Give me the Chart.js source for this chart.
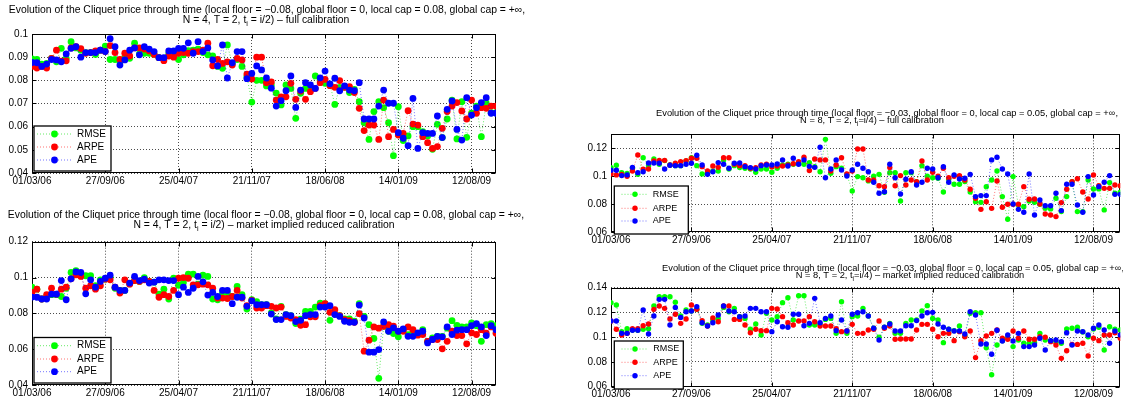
<!DOCTYPE html>
<html>
<head>
<meta charset="utf-8">
<script src="https://cdn.jsdelivr.net/npm/chart.js@4.4.1/dist/chart.umd.min.js"></script>
<style>
  body { margin: 0; background: #fff; width: 1123px; height: 404px; position: relative; overflow: hidden; }
  .panel { position: absolute; }
</style>
</head>
<body>
<div class="panel" style="left:0;top:0;width:545px;height:195px"><canvas id="fullN4"></canvas></div>
<div class="panel" style="left:0;top:200px;width:545px;height:204px"><canvas id="reducedN4"></canvas></div>
<div class="panel" style="left:560px;top:95px;width:563px;height:155px"><canvas id="fullN8"></canvas></div>
<div class="panel" style="left:560px;top:250px;width:563px;height:154px"><canvas id="reducedN8"></canvas></div>
<script>
// x axis: one sample every two weeks, a labelled tick every 15 samples
const tickIdx = [0, 15, 30, 45, 60, 75, 90];
const dateLabels = ['01/03/06', '27/09/06', '25/04/07', '21/11/07', '18/06/08', '14/01/09', '12/08/09'];

const yTicksFullN4 = [0.04, 0.05, 0.06, 0.07, 0.08, 0.09, 0.1];
const yTicksReducedN4 = [0.04, 0.06, 0.08, 0.1, 0.12];
const yTicksFullN8 = [0.06, 0.08, 0.1, 0.12];
const yTicksReducedN8 = [0.06, 0.08, 0.1, 0.12, 0.14];

// N = 4, full calibration
const fullN4Rmse = [.0892,.089,.087,.0873,.0895,.088,.0938,.0895,.0967,.094,.093,.092,.092,.0912,.093,.0948,.089,.089,.088,.090,
  .0895,.096,.0914,.0917,.0917,.0912,.0898,.0895,.0914,.091,.089,.091,.0928,.093,.0935,.092,.091,.0905,.086,.0852,
  .0953,.087,.089,.086,.0816,.0706,.080,.080,.0776,.078,.0745,.0694,.078,.0765,.0636,.0744,.0765,.0761,.0819,.080,
  .0787,.0783,.0696,.077,.077,.0747,.0761,.0708,.0617,.0545,.0665,.0708,.0682,.0617,.0475,.0686,.054,.056,.060,.060,
  .0578,.056,.0502,.061,.0553,.0633,.0715,.0547,.0708,.0554,.0658,.0689,.0557,.0701,.066,.066];
const fullN4Arpe = [.086,.0853,.086,.0853,.0895,.093,.0883,.0884,.094,.0945,.0937,.0917,.092,.0927,.093,.0925,.095,.092,.089,.0917,
  .0905,.094,.094,.0935,.0927,.0912,.0898,.0885,.0905,.090,.0917,.092,.0917,.0924,.0924,.093,.096,.0863,.089,.0873,
  .088,.0866,.0895,.0888,.0827,.0806,.090,.090,.079,.0793,.0715,.0729,.0729,.0787,.0718,.0754,.0718,.0751,.0765,.079,
  .0804,.0777,.077,.0799,.077,.0773,.0747,.0679,.0583,.0607,.0607,.0545,.0715,.0557,.0588,.0564,.0571,.0669,.0611,.0607,
  .0557,.0531,.0506,.0514,.0593,.0665,.0689,.0704,.0668,.0633,.0715,.0658,.0682,.0679,.0689,.0689];
const fullN4Ape = [.0877,.0876,.086,.087,.089,.0888,.088,.0914,.0938,.0945,.090,.092,.092,.092,.093,.0924,.098,.0945,.0866,.0888,
  .093,.094,.091,.0945,.0935,.0924,.0898,.0898,.0927,.0927,.0938,.0938,.0962,.0917,.0967,.0924,.094,.0888,.0862,.0953,
  .081,.0876,.0924,.0924,.0807,.083,.0862,.0845,.081,.0766,.0689,.0712,.0755,.0819,.0683,.0758,.079,.078,.0765,.0811,
  .084,.0785,.0809,.0755,.0776,.0758,.0755,.079,.0633,.0633,.0633,.0689,.0758,.0701,.0701,.0574,.055,.0518,.0722,.0506,
  .0574,.0571,.0571,.0646,.0553,.0675,.0711,.0588,.0542,.0725,.065,.0682,.0704,.0725,.0658,.0658];

// N = 4, market implied reduced calibration
const reducedN4Rmse = [.0946,.0935,.088,.0895,.0904,.0904,.0894,.094,.1028,.1039,.101,.101,.101,.0954,.0987,.0991,.100,.094,.0928,.0928,
  .0965,.0983,.0978,.100,.0978,.0974,.0907,.0935,.088,.0996,.0957,.0972,.1019,.1019,.0963,.1013,.1006,.088,.0876,.0913,
  .0913,.0894,.095,.0904,.0824,.0876,.0865,.0848,.0848,.0802,.0769,.0839,.0793,.0787,.0743,.0767,.0811,.0811,.0835,.0857,
  .0854,.0761,.0796,.0787,.0769,.0769,.0756,.0854,.0783,.0737,.066,.0437,.0728,.07,.0687,.0669,.0709,.0681,.07,.0681,
  .0709,.0644,.0663,.0672,.0672,.0717,.0759,.0733,.0724,.0724,.0746,.0731,.0644,.0737,.0743,.0731];
const reducedN4Arpe = [.0917,.0935,.088,.0904,.094,.0907,.0935,.0946,.0993,.1015,.1006,.094,.0954,.0935,.0954,.0991,.0987,.0946,.0913,.0987,
  .0963,.0983,.0978,.0987,.0978,.0928,.089,.0904,.0894,.0928,.0996,.100,.0996,.0959,.0959,.0963,.0959,.094,.0885,.0885,
  .0883,.0894,.0928,.0885,.0843,.0872,.083,.083,.0843,.0839,.083,.0835,.0783,.0774,.0765,.0733,.0737,.0781,.0781,.0843,
  .0854,.0806,.082,.0787,.0765,.0759,.075,.0798,.0589,.065,.0724,.0717,.0728,.0737,.0728,.07,.07,.0724,.0709,.0678,
  .0682,.0644,.0654,.0654,.0602,.0644,.07,.0676,.0676,.063,.0691,.0682,.0709,.0689,.0724,.0689];
const reducedN4Ape = [.0891,.089,.088,.088,.0907,.0907,.0983,.0876,.0993,.1031,.1028,.0909,.0987,.0946,.0978,.0996,.1013,.0946,.0928,.0928,
  .0969,.1006,.0983,.0991,.0969,.0974,.0987,.0987,.0983,.0983,.0904,.0946,.0917,.094,.1006,.0976,.0902,.0917,.0894,.0928,
  .0928,.0854,.089,.089,.0839,.087,.0848,.0848,.0848,.0796,.0765,.0765,.0793,.0787,.0754,.0761,.0787,.0793,.0793,.0835,
  .0835,.0843,.0793,.0783,.0756,.075,.075,.0846,.0774,.0583,.0583,.0598,.0752,.07,.0719,.07,.0713,.0672,.0672,.0691,
  .07,.0635,.0654,.0672,.0669,.0724,.0682,.0706,.0709,.0709,.0731,.0743,.0724,.0676,.0731,.0709];

// N = 8, full calibration
const fullN8Rmse = [.1062,.1079,.1026,.1021,.1057,.1014,.1133,.1076,.1124,.1086,.1112,.1081,.1076,.1076,.111,.1133,.1076,.1017,.1026,.1038,
  .1038,.1117,.1052,.1076,.1062,.1057,.1052,.1029,.1052,.1052,.1029,.1057,.1081,.1086,.1086,.1093,.1086,.1098,.1069,.1033,
  .1264,.1021,.1069,.1057,.101,.0895,.0998,.099,.0967,.100,.1014,.0886,.1026,.1026,.0824,.1026,.1026,.0962,.1076,.100,
  .099,.0986,.0888,.0979,.0943,.0943,.0962,.0888,.0819,.0814,.0926,.0974,.1038,.0855,.0693,.0998,.0795,.0783,.0824,.0814,
  .080,.0771,.0767,.0843,.0748,.0855,.0962,.0748,.0748,.0974,.091,.091,.076,.0955,.0879,.0886];
const fullN8Arpe = [.1017,.101,.1014,.100,.1038,.1152,.105,.1052,.111,.1114,.1114,.1081,.1093,.1105,.1112,.1129,.1129,.1069,.1038,.1074,
  .1064,.1133,.1133,.1086,.1076,.1076,.1057,.1062,.1081,.1086,.1067,.1074,.1074,.1081,.109,.1105,.1136,.1041,.1124,.1117,
  .1117,.1038,.1081,.1133,.1017,.1038,.1195,.1195,.0974,.0974,.0933,.0926,.1062,.0933,.1005,.0938,.0974,.0962,.111,.0974,
  .1029,.100,.1057,.099,.100,.1005,.0974,.0907,.0843,.0764,.0819,.0771,.0967,.0779,.080,.080,.080,.0926,.0836,.0838,
  .0802,.0731,.0724,.0712,.0812,.0907,.0962,.0983,.0888,.0838,.101,.0933,.0914,.0914,.0938,.0933];
const fullN8Ape = [.1043,.1043,.1005,.101,.1064,.1026,.1033,.1095,.1095,.1093,.1052,.1079,.1076,.1076,.1086,.1093,.115,.1081,.1014,.1033,
  .1098,.1086,.1057,.1093,.1095,.1069,.1062,.1052,.1076,.1081,.1081,.1088,.1117,.1074,.1129,.1086,.1117,.1071,.1064,.1207,
  .099,.1052,.1117,.1045,.1002,.1045,.1086,.1057,.1033,.0957,.0879,.089,.1086,.099,.0874,.0979,.1033,.0938,.0957,.1057,
  .1052,.099,.1069,.0957,.101,.0981,.0986,.1014,.0855,.0862,.0862,.1117,.1136,.1052,.1017,.0802,.0764,.0743,.1017,.0724,
  .0831,.079,.079,.0879,.0755,.0943,.0943,.0795,.0743,.0998,.0867,.0926,.0957,.1005,.0871,.0871];

// N = 8, market implied reduced calibration
const reducedN8Rmse = [.1279,.126,.1045,.1068,.1058,.1056,.1064,.1068,.1252,.1327,.1327,.1327,.1282,.1171,.122,.1212,.1225,.1112,.1099,.1139,
  .1152,.1241,.1206,.1233,.1166,.1152,.1064,.1107,.1018,.1193,.1139,.1166,.1279,.1319,.1139,.1335,.1335,.1099,.1099,.1107,
  .1144,.1152,.1031,.1287,.1031,.1166,.1171,.1233,.1171,.1072,.0999,.108,.1112,.1031,.1031,.1112,.1139,.1139,.1212,.1255,
  .1152,.1139,.0956,.1064,.1053,.1091,.1012,.1193,.1198,.1198,.0914,.0697,.0937,.0972,.0996,.0924,.0977,.0951,.0951,.0956,
  .1031,.0977,.0972,.0964,.0951,.1066,.1072,.108,.1042,.1004,.1066,.108,.0897,.1085,.1064,.1058];
const reducedN8Arpe = [.1131,.1064,.1018,.1031,.1068,.1068,.1093,.1107,.1225,.1252,.1233,.1147,.1185,.1112,.1147,.126,.1225,.1134,.1091,.1155,
  .1125,.1252,.1252,.1144,.1144,.1099,.1036,.1064,.1053,.1053,.1233,.1228,.1166,.1117,.1099,.1131,.1131,.1166,.1125,.1091,
  .1091,.1091,.1068,.1045,.105,.1104,.1031,.1031,.1058,.1064,.1131,.1072,.1091,.0983,.0985,.0985,.0985,.1058,.1104,.1104,
  .1064,.1004,.1031,.1031,.0972,.1045,.1004,.105,.0835,.0972,.101,.1031,.1058,.0991,.0983,.105,.0991,.105,.0983,.0983,
  .1004,.0999,.0964,.0937,.0829,.0891,.0942,.0942,.0951,.0848,.0991,.0972,.1018,.1018,.1036,.0991];
const reducedN8Ape = [.1131,.1131,.1031,.1031,.1056,.1056,.122,.1026,.1171,.1306,.1306,.1099,.1241,.116,.1206,.1212,.1247,.1117,.1091,.1117,
  .1179,.1252,.1212,.1206,.1166,.1171,.1233,.1233,.1206,.1206,.1045,.1125,.1085,.108,.1185,.1185,.1093,.1112,.1314,.1117,
  .1152,.1171,.1053,.1139,.105,.1185,.1198,.1206,.1171,.1072,.0977,.108,.1107,.105,.105,.1093,.1093,.1134,.1171,.1198,
  .1201,.1107,.108,.1064,.105,.105,.1026,.1206,.1179,.0945,.0945,.0862,.1056,.0969,.1018,.0969,.1031,.0924,.0924,.0937,
  .0991,.0896,.0972,.0977,.0964,.1036,.0937,.105,.1045,.1018,.1072,.1099,.1058,.0951,.105,.1018];

const FONT = "'Liberation Sans', Arial, Helvetica, sans-serif";
const SERIES = [
  { label: 'RMSE', solid: '#00ff00', pale: 'rgba(0,220,0,0.6)', order: 3 },
  { label: 'ARPE', solid: '#ff0000', pale: 'rgba(255,0,0,0.55)', order: 2 },
  { label: 'APE',  solid: '#0000ff', pale: 'rgba(0,0,255,0.55)', order: 1 }
];

// box around the axes with inward ticks on every side, drawn under the data
const matlabAxes = {
  id: 'matlabAxes',
  beforeDatasetsDraw(chart) {
    const { ctx, chartArea: a, scales: { x, y } } = chart;
    const L = Math.round(a.left) + 0.5, R = Math.round(a.right) - 0.5;
    const T = Math.round(a.top) + 0.5, B = Math.round(a.bottom) - 0.5;
    ctx.save();
    ctx.strokeStyle = '#000';
    ctx.lineWidth = 1;
    ctx.beginPath();
    x.ticks.forEach(t => {
      const px = Math.round(x.getPixelForValue(t.value)) + 0.5;
      ctx.moveTo(px, B); ctx.lineTo(px, B - 4);
      ctx.moveTo(px, T); ctx.lineTo(px, T + 4);
    });
    y.ticks.forEach(t => {
      const py = Math.round(y.getPixelForValue(t.value)) + 0.5;
      ctx.moveTo(L, py); ctx.lineTo(L + 4, py);
      ctx.moveTo(R, py); ctx.lineTo(R - 4, py);
    });
    ctx.stroke();
    ctx.strokeRect(L, T, R - L, B - T);
    ctx.restore();
  }
};

// legend box sitting inside the plot area
const boxLegend = {
  id: 'boxLegend',
  afterDatasetsDraw(chart, args, o) {
    const ctx = chart.ctx;
    const [bx, by, bw, bh] = o.box;
    ctx.save();
    ctx.fillStyle = '#fff';
    ctx.fillRect(bx, by, bw, bh);
    ctx.strokeStyle = '#000';
    ctx.lineWidth = 1.3;
    ctx.strokeRect(bx, by, bw, bh);
    ctx.font = o.size + 'px ' + FONT;
    ctx.textBaseline = 'middle';
    chart.data.datasets.forEach((ds, k) => {
      const yy = o.rows[k];
      ctx.strokeStyle = ds.borderColor;
      ctx.lineWidth = 1;
      ctx.setLineDash(ds.borderDash);
      ctx.beginPath();
      ctx.moveTo(o.lineX[0], yy);
      ctx.lineTo(o.lineX[1], yy);
      ctx.stroke();
      ctx.setLineDash([]);
      ctx.fillStyle = ds.pointBackgroundColor;
      ctx.beginPath();
      ctx.arc((o.lineX[0] + o.lineX[1]) / 2, yy, ds.pointRadius, 0, Math.PI * 2);
      ctx.fill();
      ctx.fillStyle = '#000';
      ctx.fillText(ds.label, o.textX, yy);
    });
    ctx.restore();
  }
};

// two centred title lines; "_i" is drawn as a subscript i
function drawSubText(ctx, text, cx, cy, size) {
  const parts = text.split('_i');
  const subSize = size * 0.7;
  ctx.font = size + 'px ' + FONT;
  const widths = parts.map(p => ctx.measureText(p).width);
  ctx.font = subSize + 'px ' + FONT;
  const subW = ctx.measureText('i').width;
  let total = widths.reduce((s, w) => s + w, 0) + subW * (parts.length - 1);
  let x = cx - total / 2;
  parts.forEach((p, k) => {
    ctx.font = size + 'px ' + FONT;
    ctx.fillText(p, x, cy);
    x += widths[k];
    if (k < parts.length - 1) {
      ctx.font = subSize + 'px ' + FONT;
      ctx.fillText('i', x, cy + size * 0.35);
      x += subW;
    }
  });
}

const twoLineTitle = {
  id: 'twoLineTitle',
  afterDraw(chart, args, o) {
    const ctx = chart.ctx;
    ctx.save();
    ctx.fillStyle = '#000';
    ctx.textBaseline = 'middle';
    ctx.textAlign = 'left';
    o.lines.forEach((t, k) => drawSubText(ctx, t, o.cx[k], o.cy[k], o.size));
    ctx.restore();
  }
};

function makePanel(id, p) {
  const datasets = p.series.map((values, k) => ({
    label: SERIES[k].label,
    data: values.map((v, i) => ({ x: i, y: v })),
    order: SERIES[k].order,
    borderColor: SERIES[k].pale,
    borderWidth: 1,
    borderDash: [1, 2],
    pointRadius: p.radius,
    pointBorderWidth: 0,
    pointBackgroundColor: SERIES[k].solid,
    pointHoverRadius: p.radius,
    tension: 0
  }));
  const el = document.getElementById(id);
  const W = el.parentNode.clientWidth, H = el.parentNode.clientHeight;
  return new Chart(el, {
    type: 'line',
    data: { datasets },
    plugins: [matlabAxes, boxLegend, twoLineTitle],
    options: {
      animation: false,
      responsive: true,
      maintainAspectRatio: false,
      layout: { padding: { left: 0, top: p.area.top, right: W - p.area.right, bottom: 0 } },
      plugins: {
        legend: { display: false },
        tooltip: { enabled: false },
        boxLegend: p.legend,
        twoLineTitle: p.title
      },
      scales: {
        x: {
          type: 'linear',
          min: 0,
          max: 95,
          afterBuildTicks: s => { s.ticks = tickIdx.map(v => ({ value: v })); },
          afterFit: s => { s.height = H - p.area.bottom; },
          ticks: {
            callback: v => dateLabels[tickIdx.indexOf(v)],
            color: '#000',
            font: { family: FONT, size: 10 },
            padding: 2,
            maxRotation: 0,
            autoSkip: false
          },
          grid: { color: 'rgba(0,0,0,0.7)', lineWidth: 1, drawTicks: false },
          border: { display: false, dash: [1, 2] }
        },
        y: {
          min: p.yRange[0],
          max: p.yRange[1],
          afterBuildTicks: s => { s.ticks = p.yTicks.map(v => ({ value: v })); },
          afterFit: s => { s.width = p.area.left; },
          ticks: {
            callback: v => String(+v.toFixed(2)),
            color: '#000',
            font: { family: FONT, size: 10 },
            padding: 4
          },
          grid: { color: 'rgba(0,0,0,0.7)', lineWidth: 1, drawTicks: false },
          border: { display: false, dash: [1, 2] }
        }
      }
    }
  });
}

const line1N4 = 'Evolution of the Cliquet price through time (local floor = \u22120.08, global floor = 0, local cap = 0.08, global cap = +\u221e,';
const line1N8 = 'Evolution of the Cliquet price through time (local floor = \u22120.03, global floor = 0, local cap = 0.05, global cap = +\u221e,';

makePanel('fullN4', {
  series: [fullN4Rmse, fullN4Arpe, fullN4Ape],
  yRange: [0.04, 0.1], yTicks: yTicksFullN4, radius: 3.4,
  area: { left: 32, top: 34, right: 496, bottom: 173 },
  title: { lines: [line1N4, 'N = 4, T = 2, t_i = i/2) \u2013 full calibration'], cx: [267, 266], cy: [10, 20.5], size: 10.4 },
  legend: { box: [34, 126, 77, 45], rows: [134, 147, 160], lineX: [37, 72], textX: 77, size: 10 }
});

makePanel('reducedN4', {
  series: [reducedN4Rmse, reducedN4Arpe, reducedN4Ape],
  yRange: [0.04, 0.12], yTicks: yTicksReducedN4, radius: 3.4,
  area: { left: 32, top: 41.7, right: 496, bottom: 185 },
  title: { lines: [line1N4, 'N = 4, T = 2, t_i = i/2) \u2013 market implied reduced calibration'], cx: [266, 264], cy: [15, 25], size: 10.4 },
  legend: { box: [34, 137.5, 77, 45.5], rows: [145.7, 159, 171.7], lineX: [37, 72], textX: 77, size: 10 }
});

makePanel('fullN8', {
  series: [fullN8Rmse, fullN8Arpe, fullN8Ape],
  yRange: [0.06, 0.13], yTicks: yTicksFullN8, radius: 2.7,
  area: { left: 51, top: 39.3, right: 561, bottom: 137.3 },
  title: { lines: [line1N8, 'N = 8, T = 2, t_i=i/4) \u2013 full calibration'], cx: [327, 312], cy: [18, 25.7], size: 9.3 },
  legend: { box: [54.3, 91, 74, 48], rows: [99.3, 113.3, 126], lineX: [61.5, 88.5], textX: 92.7, size: 9 }
});

makePanel('reducedN8', {
  series: [reducedN8Rmse, reducedN8Arpe, reducedN8Ape],
  yRange: [0.06, 0.14], yTicks: yTicksReducedN8, radius: 2.7,
  area: { left: 51, top: 37.7, right: 561, bottom: 136.7 },
  title: { lines: [line1N8, 'N = 8, T = 2, t_i=i/4) \u2013 market implied reduced calibration'], cx: [333, 350], cy: [18.3, 25.7], size: 9.3 },
  legend: { box: [54.3, 91, 69, 48], rows: [99, 112.3, 125.7], lineX: [61.5, 88.5], textX: 93.3, size: 9 }
});
</script>
</body>
</html>
